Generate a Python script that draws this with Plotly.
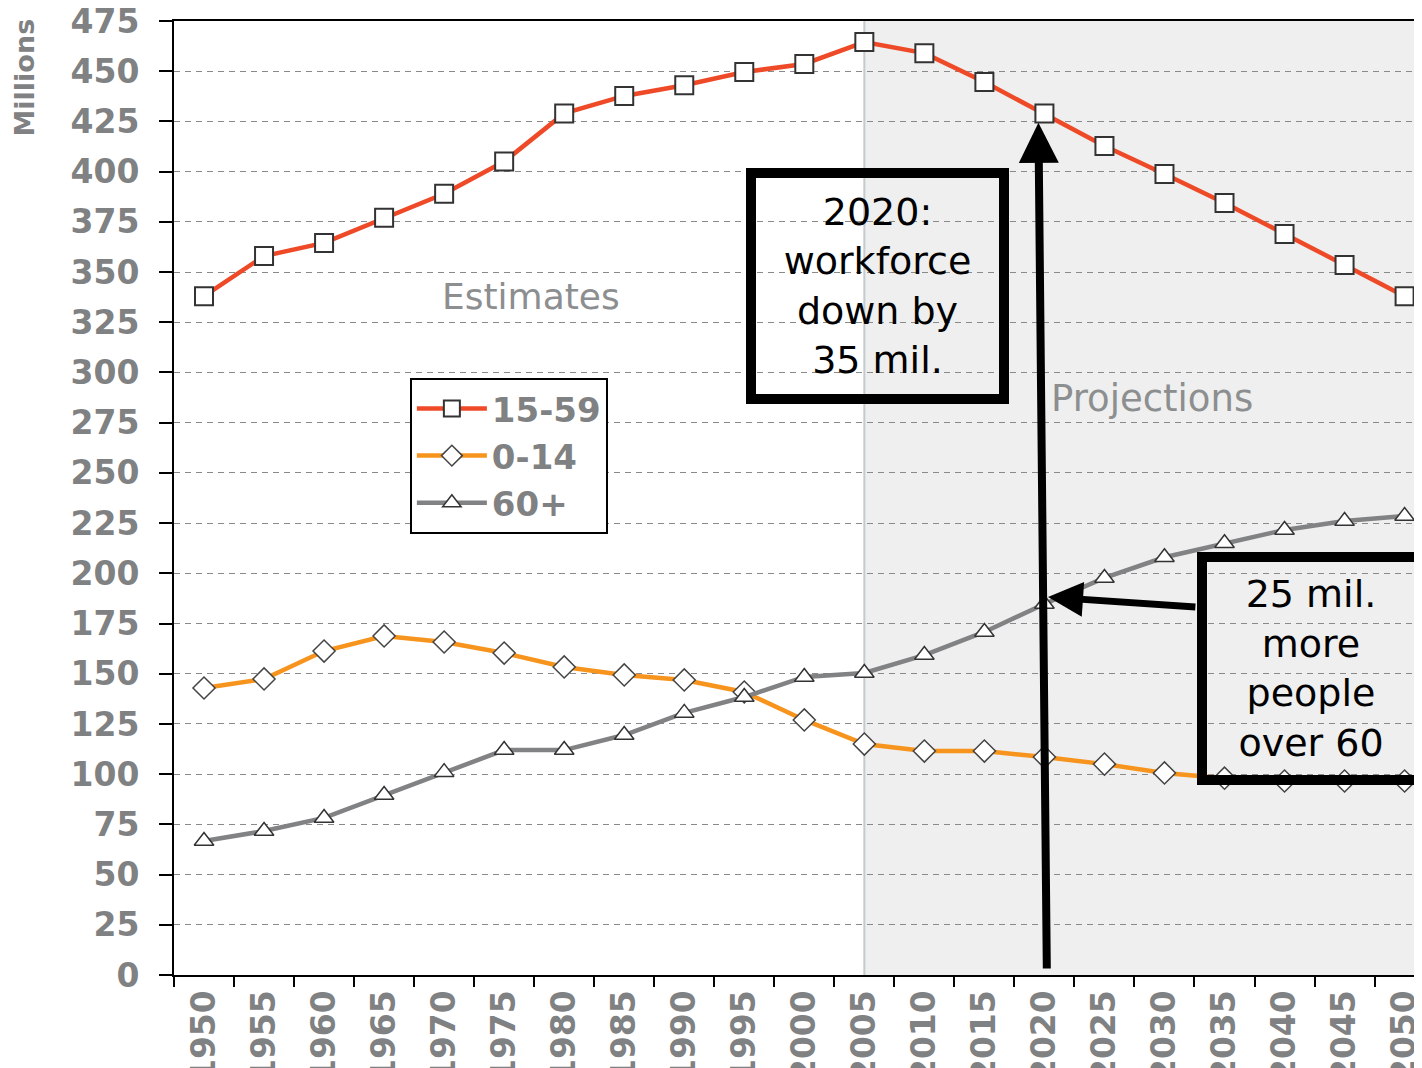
import plotly.graph_objects as go

years = [1950, 1955, 1960, 1965, 1970, 1975, 1980, 1985, 1990, 1995, 2000,
         2005, 2010, 2015, 2020, 2025, 2030, 2035, 2040, 2045, 2050]
age_15_59 = [338, 358, 364.5, 377, 389, 405, 429, 437.7, 443, 449.6, 453.6,
             464.5, 459, 444.6, 429, 412.8, 398.8, 384.4, 369, 353.5, 338]
age_0_14 = [142.9, 147.4, 161.3, 168.8, 165.8, 160.3, 153.4, 149.4, 146.9, 140.9, 127,
            115, 111.5, 111.5, 108.5, 105, 100.6, 98, 96.6, 96.6, 96.6]
age_60p = [66.7, 71.7, 78.2, 89.6, 101, 112, 112, 119.5, 130.5, 138.4, 148.4,
           150.4, 159.3, 170.8, 184.7, 197.7, 208, 215, 221.6, 226, 228.5]
year_labels = [str(y) for y in years]
y_ticks = list(range(0, 476, 25))

GRAY = "#7f8182"
FONT = "DejaVu Sans"

fig = go.Figure()
fig.add_trace(go.Scatter(x=years, y=age_15_59, name="15-59", mode="lines+markers",
                         line=dict(color="#ee4a28", width=4.5),
                         marker=dict(symbol="square", size=18, color="white",
                                     line=dict(color="#333333", width=2))))
fig.add_trace(go.Scatter(x=years, y=age_0_14, name="0-14", mode="lines+markers",
                         line=dict(color="#f7941d", width=4.5),
                         marker=dict(symbol="diamond", size=17, color="white",
                                     line=dict(color="#444444", width=1.5))))
fig.add_trace(go.Scatter(x=years, y=age_60p, name="60+", mode="lines+markers",
                         line=dict(color="#808284", width=4.5),
                         marker=dict(symbol="triangle-up", size=17, color="white",
                                     line=dict(color="#333333", width=1.5))))

# Projections shading
fig.add_shape(type="rect", xref="x", yref="paper", x0=2005, x1=2060, y0=0, y1=1,
              fillcolor="#eeefee", line=dict(width=0), layer="below")
fig.add_shape(type="line", xref="x", yref="paper", x0=2005, x1=2005, y0=0, y1=1,
              line=dict(color="#c3cbcf", width=2), layer="below")

annotations = [
    dict(text="Estimates", x=1977.2, y=338, xref="x", yref="y", showarrow=False,
         font=dict(family=FONT, size=36, color="#8c8e8f")),
    dict(text="Projections", x=2029, y=287, xref="x", yref="y", showarrow=False,
         font=dict(family=FONT, size=37, color="#8c8e8f")),
    dict(text="Millions", x=-0.12, y=0.941, xref="paper", yref="paper",
         xanchor="center", yanchor="middle", textangle=-90, showarrow=False,
         font=dict(family=FONT, size=27, color=GRAY, weight="bold")),
    # arrow 1 (workforce)
    dict(text="", x=2019.5, y=424.3, xref="x", yref="y", ax=2020.2, ay=2.5,
         axref="x", ayref="y", showarrow=True, arrowhead=2, arrowsize=1.0,
         arrowwidth=8, arrowcolor="black", standoff=0),
    # arrow 2 (over 60)
    dict(text="", x=2020.3, y=188.2, xref="x", yref="y", ax=2032.7, ay=183.2,
         axref="x", ayref="y", showarrow=True, arrowhead=2, arrowsize=1.0,
         arrowwidth=7, arrowcolor="black", standoff=0),
    dict(text="2020:<br>workforce<br>down by<br>35 mil.", x=2006.12, y=343.1,
         xref="x", yref="y", showarrow=False, width=243, height=216,
         borderwidth=10, borderpad=0, bordercolor="black",
         font=dict(family=FONT, size=38, color="black")),
    dict(text="25 mil.<br>more<br>people<br>over 60", x=2042.2, y=152.6,
         xref="x", yref="y", showarrow=False, width=208, height=213,
         borderwidth=10, borderpad=0, bordercolor="black",
         font=dict(family=FONT, size=38, color="black")),
]

fig.update_layout(
    width=1414, height=1060,
    margin=dict(l=166, r=0, t=13, b=93, autoexpand=False),
    paper_bgcolor="white", plot_bgcolor="white",
    annotations=annotations,
    legend=dict(x=0.189, y=0.626, xanchor="left", yanchor="top",
                bgcolor="white", bordercolor="black", borderwidth=2,
                font=dict(family=FONT, size=34, color=GRAY, weight="bold"),
                itemwidth=70, tracegroupgap=0),
    showlegend=True,
)

fig.update_xaxes(range=[1947.5, 2051.45], tickmode="array", tickvals=years,
                 ticktext=year_labels, tickangle=-90, ticks="",
                 ticklabelstandoff=0, automargin=False, ticklabeloverflow="allow",
                 tickfont=dict(family=FONT, size=33, color=GRAY, weight="bold"),
                 showgrid=False, zeroline=False,
                 showline=True, linecolor="black", linewidth=2, mirror=True,
                 minor=dict(ticks="outside", tick0=1947.5, dtick=5, ticklen=10,
                            tickcolor="black", tickwidth=2, showgrid=False))
fig.update_yaxes(range=[0, 475], tickmode="array", tickvals=y_ticks,
                 ticks="outside", ticklen=13, tickcolor="black", tickwidth=2,
                 ticklabelstandoff=13, automargin=False, ticklabeloverflow="allow",
                 tickfont=dict(family=FONT, size=33, color=GRAY, weight="bold"),
                 showgrid=True, gridcolor="#8a8a8a", gridwidth=1.3, griddash="6px,5px",
                 zeroline=False, showline=True, linecolor="black", linewidth=2)

fig.write_html("out.html")
